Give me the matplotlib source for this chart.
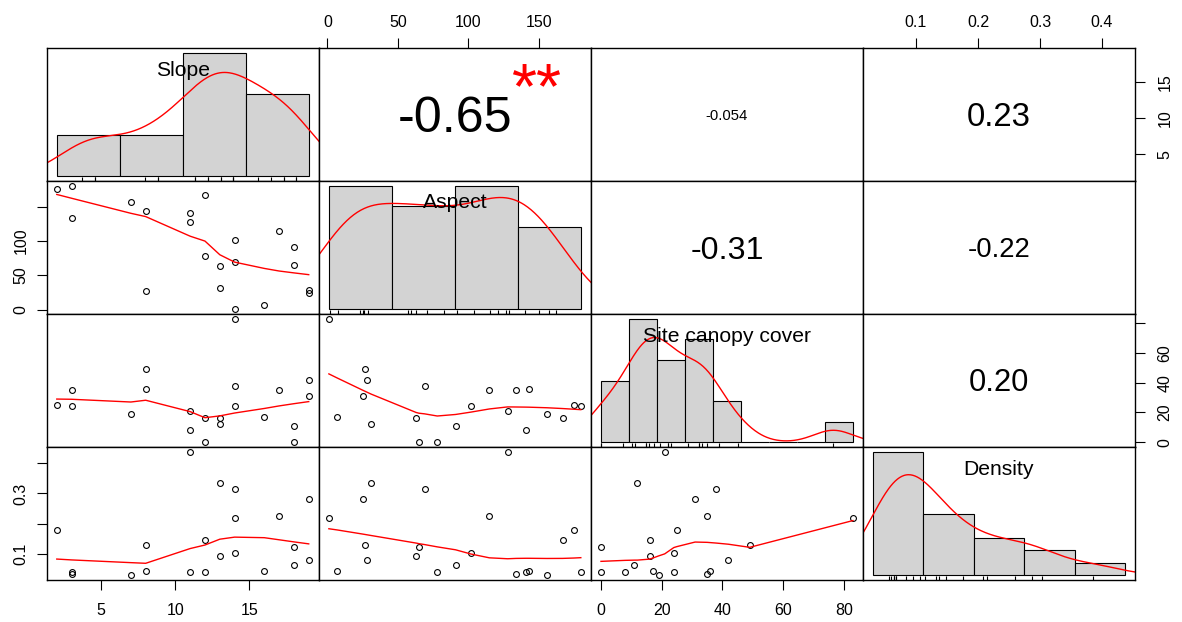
import numpy as np
import matplotlib.pyplot as plt
from matplotlib.textpath import TextPath
from matplotlib.font_manager import FontProperties
from matplotlib.transforms import ScaledTranslation

FONT = 'Liberation Sans'
plt.rcParams['font.family'] = [FONT, 'DejaVu Sans']

names = ['Slope', 'Aspect', 'Site canopy cover', 'Density']

# one value per plot
slope = np.array([14, 16, 19, 8, 19, 13, 13, 18, 14, 12, 18,
                  14, 17, 11, 3, 11, 8, 7, 12, 2, 3])
aspect = np.array([1, 7, 25, 27, 28, 31, 63, 65, 69, 78, 91,
                   102, 115, 128, 134, 141, 143, 156, 167, 175, 180])
canopy = np.array([83, 17, 31, 49, 42, 12, 16, 0, 38, 0, 11,
                   24, 35, 21, 35, 8, 36, 19, 16, 25, 24])
density = np.array([0.218, 0.046, 0.281, 0.130, 0.080, 0.335, 0.094,
                    0.125, 0.315, 0.041, 0.065, 0.103, 0.227, 0.437,
                    0.036, 0.041, 0.046, 0.031, 0.145, 0.178, 0.041])
data = [slope, aspect, canopy, density]
hist_steps = [5, 50, 10, 0.1]

# upper panels: pearson r and significance stars
cor_pairs = [(0, 1), (0, 2), (0, 3), (1, 2), (1, 3), (2, 3)]
cor_values = [-0.65, -0.054, 0.23, -0.31, -0.22, 0.20]
cor_labels = ['-0.65', '-0.054', '0.23', '-0.31', '-0.22', '0.20']
cor_stars = ['**', '', '', '', '', '']

# outer axes
slope_ticks = [5, 10, 15]
slope_labels = ['5', '10', '15']
aspect_ticks = [0, 50, 100, 150]
aspect_top_labels = ['0', '50', '100', '150']
aspect_left_labels = ['0', '50', '100', '']
canopy_ticks = [0, 20, 40, 60, 80]
canopy_bottom_labels = ['0', '20', '40', '60', '80']
canopy_right_labels = ['0', '20', '40', '60', '']
density_ticks = [0.1, 0.2, 0.3, 0.4]
density_top_labels = ['0.1', '0.2', '0.3', '0.4']
density_left_labels = ['0.1', '', '0.3', '']

W, H = 1182, 622
fig = plt.figure(figsize=(W / 100, H / 100), dpi=100)
fp = FontProperties(family=FONT)

X0, Y0, PW, PH = 46.7, 48.0, 272.1, 133.0


def ext(v):
    lo, hi = float(np.min(v)), float(np.max(v))
    d = 0.04 * (hi - lo)
    return lo - d, hi + d


def lowess(x, y, f=2 / 3, n_iter=3):
    order = np.argsort(x, kind='mergesort')
    x = np.asarray(x, float)[order]
    y = np.asarray(y, float)[order]
    n = len(x)
    ns = max(min(int(f * n + 1e-7), n), 2)
    rng = x[-1] - x[0]
    rw = np.ones(n)
    fit = np.zeros(n)
    for it in range(n_iter + 1):
        for i in range(n):
            d = np.abs(x - x[i])
            h = np.sort(d)[ns - 1]
            w = np.zeros(n)
            inside = d <= 0.999 * h
            w[inside] = (1 - (d[inside] / h) ** 3) ** 3 if h > 0 else 1.0
            w[d <= 0.001 * h] = 1.0
            w = w * rw
            if w.sum() <= 0:
                fit[i] = y[i]
                continue
            w = w / w.sum()
            if h > 0:
                a = np.sum(w * x)
                b = x[i] - a
                c = np.sum(w * (x - a) ** 2)
                if np.sqrt(c) > 0.001 * rng:
                    w = w * (b / c * (x - a) + 1)
            fit[i] = np.sum(w * y)
        if it == n_iter:
            break
        res = np.abs(y - fit)
        cmad = 6 * np.median(res)
        if cmad < 1e-7 * np.mean(np.abs(y)):
            break
        rw = np.where(res <= 0.001 * cmad, 1.0,
                      np.where(res <= 0.999 * cmad, (1 - (res / cmad) ** 2) ** 2, 0.0))
    return x, fit


def kde(v):
    n = len(v)
    sd = np.std(v, ddof=1)
    q75, q25 = np.percentile(v, [75, 25])
    bw = 0.9 * min(sd, (q75 - q25) / 1.34) * n ** -0.2
    grid = np.linspace(v.min() - 3 * bw, v.max() + 3 * bw, 512)
    dens = np.exp(-0.5 * ((grid[:, None] - v[None, :]) / bw) ** 2).sum(1)
    return grid, dens / (n * bw * np.sqrt(2 * np.pi))


def centred_text(ax, x, y, s, size, color='black'):
    b = TextPath((0, 0), s, size=size, prop=fp).get_extents()
    off = ScaledTranslation(-(b.x0 + b.x1) / 2 / 72, -(b.y0 + b.y1) / 2 / 72,
                            fig.dpi_scale_trans)
    ax.text(x, y, s, fontsize=size, color=color, ha='left', va='baseline',
            transform=ax.transAxes + off)


def outer_axis(ax, side, ticks, labels):
    kw = dict(direction='out', length=6.9, width=0.8, labelsize=11.5,
              colors='black')
    if side in ('top', 'bottom'):
        ax.tick_params(axis='x', top=side == 'top', bottom=side == 'bottom',
                       labeltop=side == 'top', labelbottom=side == 'bottom',
                       pad=5.8 if side == 'top' else 9.7, **kw)
        ax.set_xticks(ticks)
        ax.set_xticklabels(labels)
    else:
        ax.tick_params(axis='y', left=side == 'left', right=side == 'right',
                       labelleft=side == 'left', labelright=side == 'right',
                       pad=6.0 if side == 'left' else 9.4, **kw)
        ax.set_yticks(ticks)
        ax.set_yticklabels(labels, rotation=90, va='center')


axes = [[None] * 4 for _ in range(4)]
for i in range(4):
    for j in range(4):
        rect = [(X0 + j * PW) / W, 1 - (Y0 + (i + 1) * PH) / H, PW / W, PH / H]
        ax = fig.add_axes(rect)
        ax.set_xticks([])
        ax.set_yticks([])
        for sp in ax.spines.values():
            sp.set_linewidth(1.0)
            sp.set_color('black')
        axes[i][j] = ax

        if i == j:
            # histogram with kernel density and rug
            v = data[i]
            step = hist_steps[i]
            edges = np.arange(np.floor(v.min() / step) * step,
                              np.ceil(v.max() / step) * step + step / 2, step)
            dens, _ = np.histogram(v, bins=edges, density=True)
            ax.bar(edges[:-1], dens, width=step, align='edge',
                   color='#D3D3D3', edgecolor='black', linewidth=0.8)
            gx, gy = kde(v)
            ax.plot(gx, gy, color='red', lw=1.0)
            ax.vlines(v, 0, 0.03, transform=ax.get_xaxis_transform(),
                      color='black', lw=0.8)
            ax.set_xlim(ext(edges))
            ax.set_ylim(ext([0, dens.max()]))
            centred_text(ax, 0.5, 0.833, names[i], 15.2)
        else:
            ax.set_xlim(ext(data[j]))
            ax.set_ylim(ext(data[i]))
            if i > j:
                ax.plot(data[j], data[i], 'o', ms=4.2, mfc='none',
                        mec='black', mew=0.8)
                lx, ly = lowess(data[j], data[i])
                ax.plot(lx, ly, color='red', lw=1.0)

# correlation text, sized by |r|
for (i, j), r, txt, star in zip(cor_pairs, cor_values, cor_labels, cor_stars):
    ax = axes[i][j]
    ink_w = TextPath((0, 0), txt, size=100, prop=fp).get_extents().width
    target = 150.5 * (abs(r) + 0.3) / 1.3 * 0.72
    size = 100 * target / ink_w
    centred_text(ax, 0.5, 0.5, txt, size)
    if star:
        centred_text(ax, 0.8, 0.8, star, 0.94 * size * 1.3 / (abs(r) + 0.3),
                     color='red')

outer_axis(axes[3][0], 'bottom', slope_ticks, slope_labels)
outer_axis(axes[3][2], 'bottom', canopy_ticks, canopy_bottom_labels)
outer_axis(axes[0][1], 'top', aspect_ticks, aspect_top_labels)
outer_axis(axes[0][3], 'top', density_ticks, density_top_labels)
outer_axis(axes[1][0], 'left', aspect_ticks, aspect_left_labels)
outer_axis(axes[3][0], 'left', density_ticks, density_left_labels)
outer_axis(axes[0][3], 'right', slope_ticks, slope_labels)
outer_axis(axes[2][3], 'right', canopy_ticks, canopy_right_labels)

fig.savefig('out.png', dpi=100, facecolor='white')
